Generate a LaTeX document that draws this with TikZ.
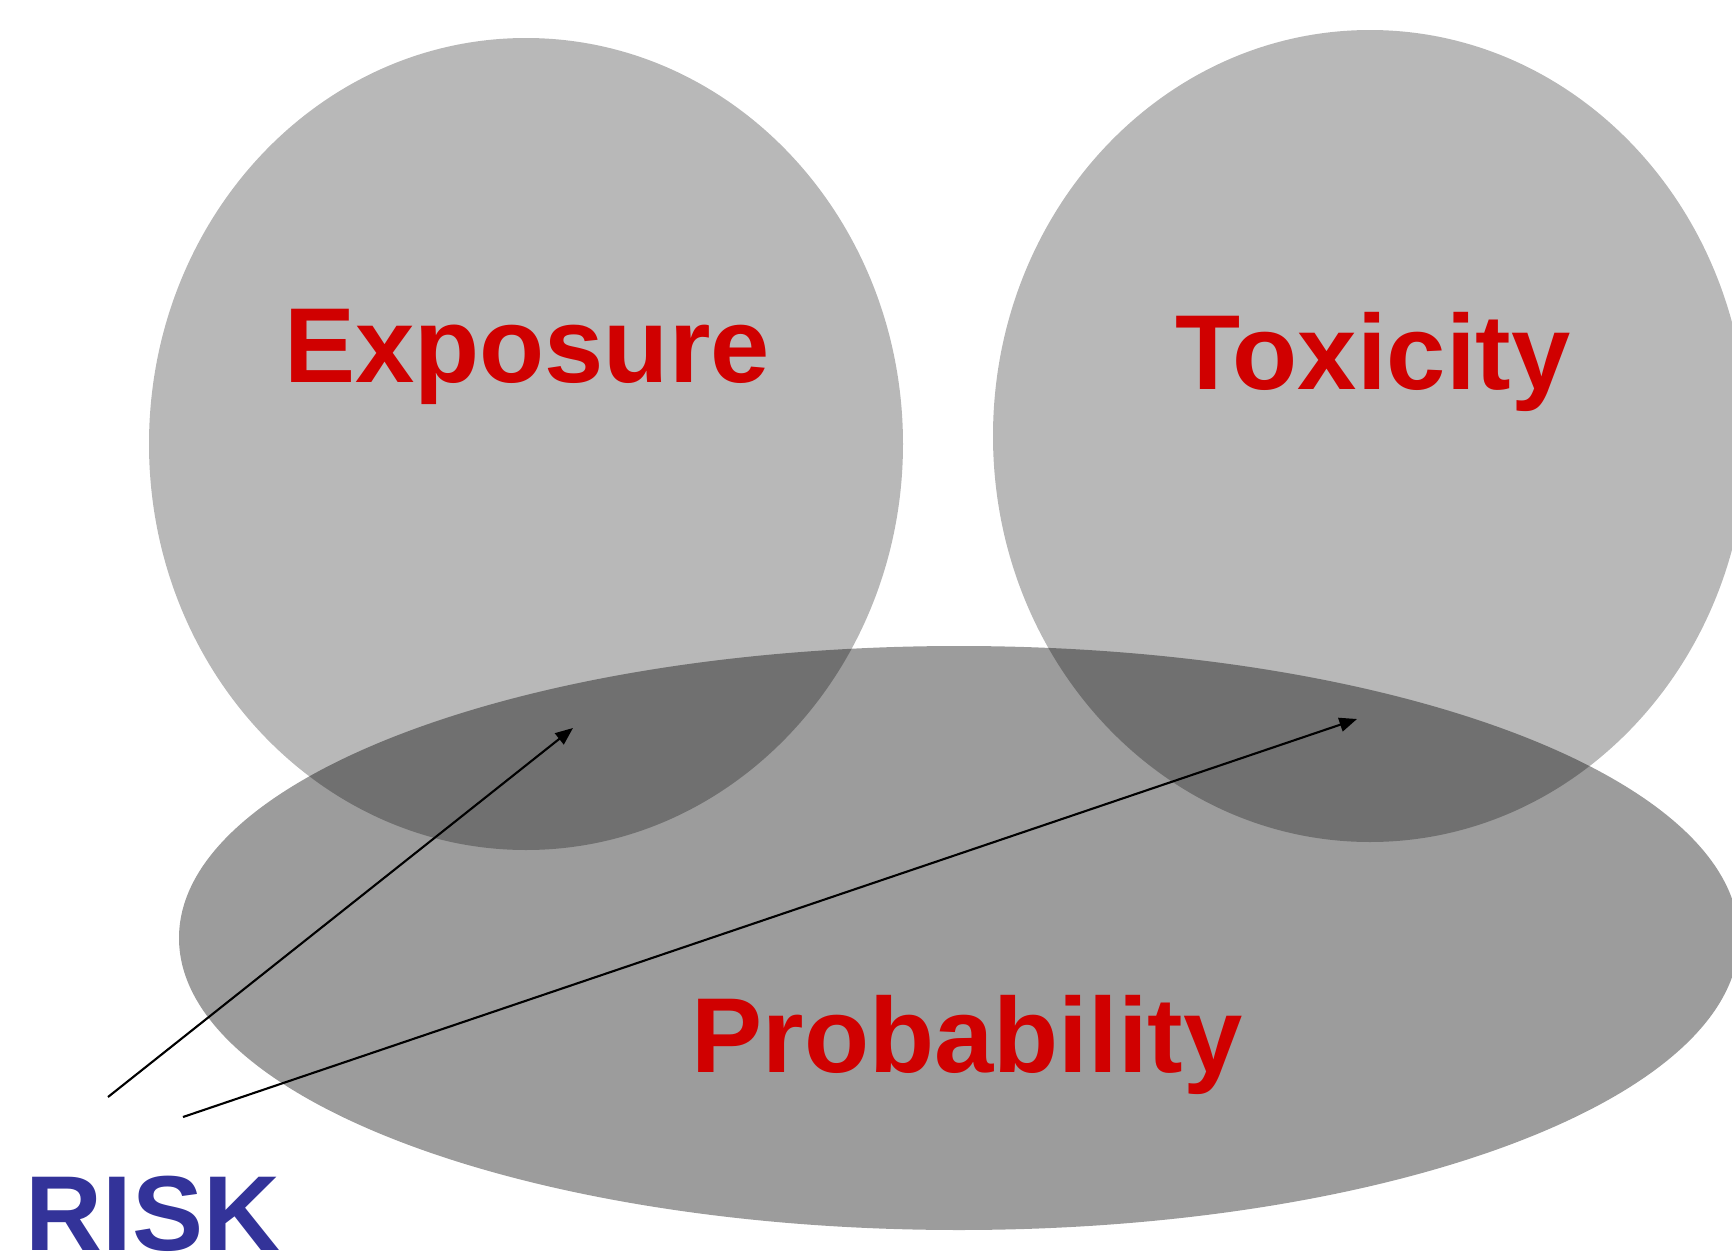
\documentclass[tikz,border=0pt]{standalone}
\usepackage{fontspec}
\setmainfont{Liberation Sans}
\usepackage{xcolor}
\usepackage{tikz}
\usetikzlibrary{arrows.meta}
\definecolor{factorred}{RGB}{208,0,0}
\definecolor{riskblue}{RGB}{51,51,153}
\definecolor{blobgray}{RGB}{184,184,184}

\begin{document}
\begin{tikzpicture}[x=0.01cm,y=-0.01cm,>={Triangle[length=5pt,width=4pt]},
  label/.style={font=\fontsize{30.3}{34}\selectfont\bfseries},
  blob/.style={fill=blobgray,draw=none}]
  \useasboundingbox (0,0) rectangle (1732,1257);
  \clip (0,0) rectangle (1732,1257);
  % the three factors
  \fill[blob] (526,444) ellipse [x radius=377,y radius=406];
  \fill[blob] (1370,436) ellipse [x radius=377,y radius=406];
  \fill[black,opacity=0.39] (959,938) ellipse [x radius=780,y radius=292];
  \node[label,text=factorred] (exposure) at (527,357){Exposure};
  \node[label,text=factorred] (toxicity) at (1373,362){Toxicity};
  \node[label,text=factorred] (probability) at (967,1045){Probability};
  \node[label,text=riskblue,anchor=base west,inner sep=0pt] (risk) at (25,1250){RISK};
  % arrows into the overlaps
  \coordinate (from1) at (108,1097);
  \coordinate (from2) at (183,1117);
  \coordinate (overlapL) at (573,728);
  \coordinate (overlapR) at (1357,719);
  \draw[->,line width=0.6pt] (from1) -- (overlapL);
  \draw[->,line width=0.6pt] (from2) -- (overlapR);
\end{tikzpicture}
\end{document}
